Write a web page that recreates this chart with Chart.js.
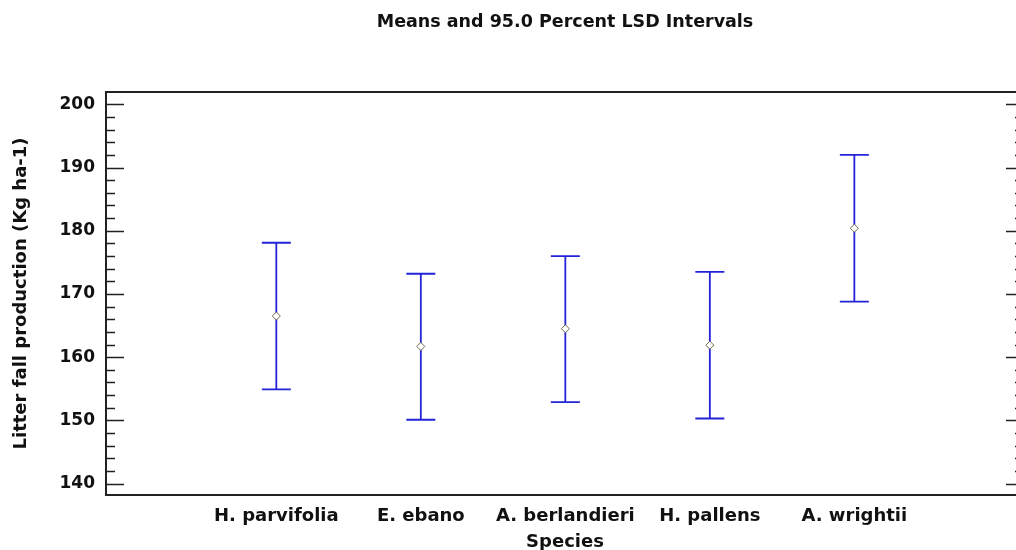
<!DOCTYPE html>
<html>
<head>
<meta charset="utf-8">
<script src="https://cdn.jsdelivr.net/npm/chart.js@4.4.1/dist/chart.umd.min.js"></script>
<style>
  html, body { margin: 0; padding: 0; background: #fff; overflow: hidden; }
  #wrap { width: 1030px; height: 550px; }
</style>
</head>
<body>
<div id="wrap"><canvas id="c"></canvas></div>
<script>
// species and LSD intervals
var species = ["H. parvifolia", "E. ebano", "A. berlandieri", "H. pallens", "A. wrightii"];
var means   = [166.5, 161.7, 164.5, 161.9, 180.4];
var lower   = [154.9, 150.1, 152.9, 150.3, 168.8];
var upper   = [178.1, 173.2, 176.0, 173.5, 192.0];
var yTicks  = [140, 150, 160, 170, 180, 190, 200];

var FONT = "DejaVu Sans";
var barColor = "#2323d8";

// frame plus inward major/minor ticks on both sides
var framePlugin = {
	id: "frame",
	afterDraw: function(chart) {
		var ctx = chart.ctx, a = chart.chartArea, y = chart.scales.y;
		ctx.save();
		ctx.strokeStyle = "#222";
		ctx.lineWidth = 2;
		ctx.strokeRect(a.left, a.top, a.right - a.left, a.bottom - a.top);
		ctx.lineWidth = 1.5;
		ctx.beginPath();
		for (var v = yTicks[0]; v <= yTicks[yTicks.length - 1]; v += 2) {
			var py = Math.round(y.getPixelForValue(v)) + 0.5;
			var len = (v % 10 === 0) ? 18 : 9;
			ctx.moveTo(a.left, py); ctx.lineTo(a.left + len, py);
			ctx.moveTo(a.right, py); ctx.lineTo(a.right - len, py);
		}
		ctx.stroke();
		ctx.restore();
	}
};

// vertical interval with caps, under the mean markers
var errorBarPlugin = {
	id: "errbars",
	beforeDatasetsDraw: function(chart) {
		var ctx = chart.ctx, x = chart.scales.x, y = chart.scales.y;
		ctx.save();
		ctx.strokeStyle = barColor;
		ctx.lineWidth = 1.8;
		for (var i = 0; i < species.length; i++) {
			var px = x.getPixelForValue(i + 1);
			var pTop = y.getPixelForValue(upper[i]);
			var pBot = y.getPixelForValue(lower[i]);
			ctx.beginPath();
			ctx.moveTo(px, pTop); ctx.lineTo(px, pBot);
			ctx.moveTo(px - 14.5, pTop); ctx.lineTo(px + 14.5, pTop);
			ctx.moveTo(px - 14.5, pBot); ctx.lineTo(px + 14.5, pBot);
			ctx.stroke();
		}
		ctx.restore();
	}
};

new Chart(document.getElementById("c"), {
	type: "scatter",
	data: {
		datasets: [{
			data: means.map(function(m, i) { return { x: i + 1, y: m }; }),
			pointStyle: "rectRot",
			pointRadius: 4,
			pointBorderWidth: 1,
			pointBorderColor: "#6f6c4c",
			pointBackgroundColor: "#fff"
		}]
	},
	options: {
		responsive: true,
		maintainAspectRatio: false,
		animation: false,
		layout: { padding: { left: 0, right: 6, top: 0, bottom: 0 } },
		plugins: {
			legend: { display: false },
			tooltip: { enabled: false },
			title: {
				display: true,
				fullSize: false,
				text: "Means and 95.0 Percent LSD Intervals",
				color: "#111",
				font: { family: FONT, size: 17.5, weight: "bold" },
				padding: { top: 12, bottom: 59 }
			}
		},
		scales: {
			x: {
				type: "linear",
				min: -0.1786,
				max: 6.174,
				grid: { display: false, drawTicks: false },
				border: { display: false },
				afterFit: function(s) { s.height = 55; },
				afterBuildTicks: function(s) {
					s.ticks = species.map(function(n, i) { return { value: i + 1 }; });
				},
				ticks: {
					autoSkip: false,
					maxRotation: 0,
					padding: 11,
					color: "#111",
					font: { family: FONT, size: 18, weight: "bold" },
					callback: function(v) { return species[v - 1] || ""; }
				},
				title: {
					display: true,
					text: "Species",
					color: "#111",
					font: { family: FONT, size: 18, weight: "bold" },
					padding: { top: 0, bottom: -3 }
				}
			},
			y: {
				min: 138.2,
				max: 201.95,
				grid: { display: false, drawTicks: false },
				border: { display: false },
				afterFit: function(s) { s.width = 106; },
				afterBuildTicks: function(s) {
					s.ticks = yTicks.map(function(v) { return { value: v }; });
				},
				ticks: {
					padding: 11,
					color: "#111",
					font: { family: FONT, size: 17, weight: "bold" }
				},
				title: {
					display: true,
					text: "Litter fall production (Kg ha-1)",
					color: "#111",
					font: { family: FONT, size: 18, weight: "bold" },
					padding: 11
				}
			}
		}
	},
	plugins: [framePlugin, errorBarPlugin]
});
</script>
</body>
</html>
